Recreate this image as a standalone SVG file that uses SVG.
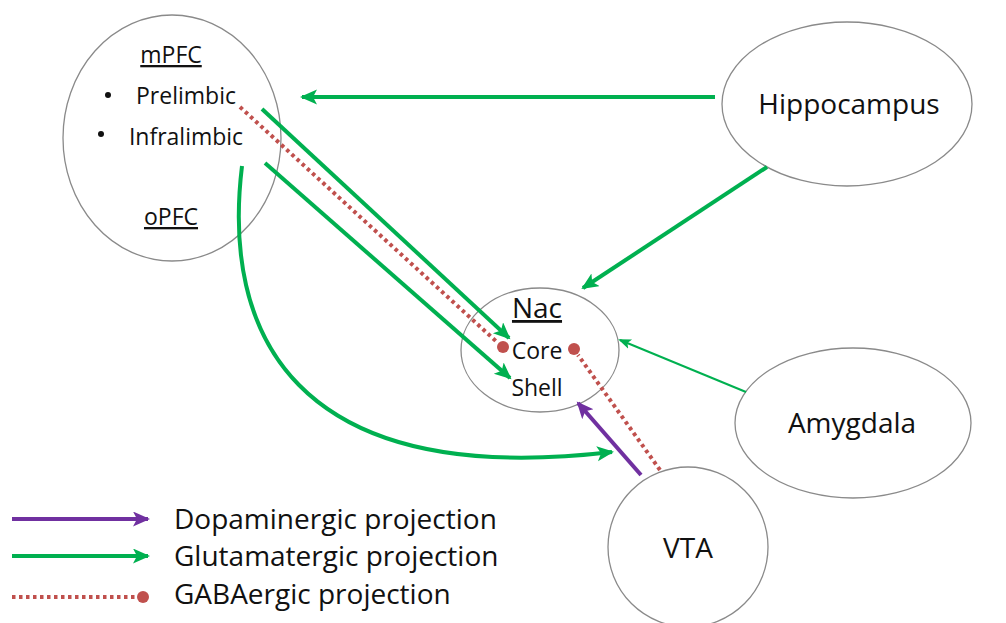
<svg xmlns="http://www.w3.org/2000/svg" width="1006" height="623" viewBox="0 0 1006 623">
<style>
.node{fill:#fff;stroke:#8a8a8a;stroke-width:1.3}
.t{font-family:"Open Sans","Liberation Sans",sans-serif;fill:#111}
.s{font-size:23px}
.b{font-size:28px}
.u{text-decoration:underline}
.g{stroke:#00B050;stroke-width:4;fill:none}
.gt{stroke:#00B050;stroke-width:2;fill:none}
.p{stroke:#7030A0;stroke-width:4;fill:none}
.r{stroke:#C0504D;stroke-width:4;fill:none;stroke-dasharray:3.5 3.5}
.dot{fill:#C0504D}
</style>
<defs>
<marker id="ag" markerUnits="userSpaceOnUse" markerWidth="20" markerHeight="18" refX="15" refY="7.5" orient="auto"><path d="M0,0 L17,7.5 L0,15 L4,7.5 Z" fill="#00B050"/></marker>
<marker id="agt" markerUnits="userSpaceOnUse" markerWidth="14" markerHeight="12" refX="11" refY="5" orient="auto"><path d="M0,0 L13,5 L0,10 L3,5 Z" fill="#00B050"/></marker>
<marker id="ap" markerUnits="userSpaceOnUse" markerWidth="20" markerHeight="18" refX="15" refY="7.5" orient="auto"><path d="M0,0 L17,7.5 L0,15 L4,7.5 Z" fill="#7030A0"/></marker>
</defs>
<rect width="1006" height="623" fill="#fff"/>
<g id="mPFC">
<ellipse class="node" cx="172" cy="138" rx="109" ry="123"/>
<text class="t s u" x="171" y="63" text-anchor="middle">mPFC</text>
<circle cx="108" cy="95" r="3" fill="#111"/>
<text class="t s" x="186" y="104" text-anchor="middle">Prelimbic</text>
<circle cx="101" cy="134" r="3" fill="#111"/>
<text class="t s" x="186" y="145" text-anchor="middle">Infralimbic</text>
<text class="t s u" x="171" y="225" text-anchor="middle">oPFC</text>
</g>
<g id="Hippocampus">
<ellipse class="node" cx="847" cy="104" rx="125" ry="82"/>
<text class="t b" x="849" y="114" text-anchor="middle">Hippocampus</text>
</g>
<g id="Nac">
<ellipse class="node" cx="540" cy="350" rx="79" ry="62"/>
<text class="t b u" x="537" y="318" text-anchor="middle">Nac</text>
<text class="t s" x="537" y="359" text-anchor="middle">Core</text>
<text class="t s" x="537" y="396" text-anchor="middle">Shell</text>
</g>
<g id="Amygdala">
<ellipse class="node" cx="853" cy="423" rx="118" ry="75"/>
<text class="t b" x="852" y="433" text-anchor="middle">Amygdala</text>
</g>
<g id="VTA">
<ellipse class="node" cx="688" cy="547" rx="80" ry="80"/>
<text class="t b" x="688" y="558" text-anchor="middle">VTA</text>
</g>
<g id="connectors">
<line class="g" x1="715" y1="97" x2="302" y2="97" marker-end="url(#ag)"/>
<line class="g" x1="767" y1="167" x2="583" y2="288" marker-end="url(#ag)"/>
<line class="gt" x1="746" y1="392" x2="620" y2="340" marker-end="url(#agt)"/>
<line class="g" x1="262" y1="109" x2="509" y2="338" marker-end="url(#ag)"/>
<line class="g" x1="265" y1="163" x2="510" y2="378" marker-end="url(#ag)"/>
<path class="g" d="M242,166 C222,330 290,490 612,452" marker-end="url(#ag)"/>
<line class="r" x1="240" y1="107" x2="498" y2="343"/>
<circle class="dot" cx="503" cy="347" r="6"/>
<line class="r" x1="660" y1="470" x2="578" y2="355"/>
<circle class="dot" cx="574" cy="349" r="6"/>
<line class="p" x1="641" y1="475" x2="578" y2="403" marker-end="url(#ap)"/>
</g>
<g id="legend">
<line class="p" x1="12" y1="519" x2="148" y2="519" marker-end="url(#ap)"/>
<text class="t b" x="174" y="529">Dopaminergic projection</text>
<line class="g" x1="12" y1="556" x2="148" y2="556" marker-end="url(#ag)"/>
<text class="t b" x="174" y="566">Glutamatergic projection</text>
<line class="r" x1="12" y1="597" x2="138" y2="597"/>
<circle class="dot" cx="143" cy="597" r="6"/>
<text class="t b" x="174" y="604">GABAergic projection</text>
</g>
</svg>
